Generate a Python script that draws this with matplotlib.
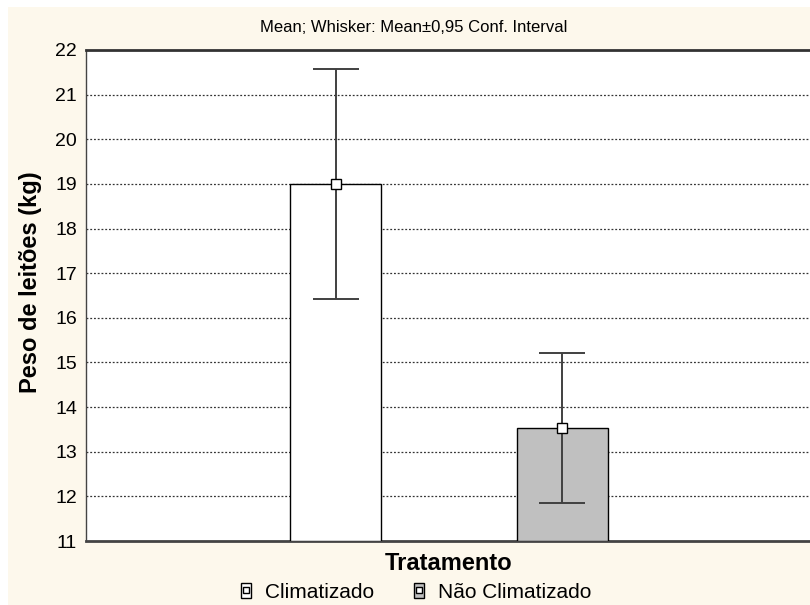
import matplotlib
matplotlib.use("Agg")
import matplotlib.pyplot as plt
from matplotlib.patches import Rectangle, Patch
from matplotlib.lines import Line2D
from matplotlib.legend_handler import HandlerTuple

plt.rcParams['font.family'] = ['Liberation Sans', 'DejaVu Sans']

categories = ["Climatizado", "Não Climatizado"]
means = [19.0, 13.53]
ci_low = [16.42, 11.85]
ci_high = [21.57, 15.22]
bar_colors = ["#ffffff", "#c0c0c0"]
yticks = list(range(11, 23))

W, H = 810, 605
fig = plt.figure(figsize=(W / 100, H / 100), dpi=100, facecolor="white")
fig.patches.append(Rectangle((8 / W, 0), 1, 1 - 7 / H, transform=fig.transFigure,
                             facecolor="#fdf8ec", edgecolor="none", zorder=-10))

ax = fig.add_axes([86 / W, 1 - 541 / H, (812 - 86) / W, (541 - 50) / H])
ax.set_facecolor("white")
x = [0, 1]
ax.bar(x, [m - 11 for m in means], bottom=11, width=0.4, color=bar_colors,
       edgecolor="black", linewidth=1.0, zorder=3)
yerr = [[m - l for m, l in zip(means, ci_low)], [h - m for m, h in zip(means, ci_high)]]
ax.errorbar(x, means, yerr=yerr, fmt="none", ecolor="#404040", elinewidth=1.4,
            capsize=16.5, capthick=1.4, zorder=4)
ax.plot(x, means, linestyle="none", marker="s", markersize=6.5, markerfacecolor="white",
        markeredgecolor="black", markeredgewidth=1.0, zorder=5)

ax.set_xlim(-1.1, 2.1)
ax.set_ylim(11, 22)
ax.set_yticks(yticks)
ax.set_yticklabels([str(t) for t in yticks], fontsize=14)
ax.set_xticks([])
ax.tick_params(axis="y", length=0, pad=6.5)
for t in [12, 13, 14, 15, 16, 17, 18, 19, 20, 21]:
    ax.axhline(t, color="#333333", linestyle=(0, (1.5, 1.5)), linewidth=0.9, zorder=1)
ax.spines["top"].set_linewidth(2.0)
ax.spines["top"].set_color("#333333")
ax.spines["bottom"].set_linewidth(2.0)
ax.spines["bottom"].set_color("#444444")
ax.spines["left"].set_linewidth(1.0)
ax.spines["left"].set_color("#444444")
ax.spines["right"].set_visible(False)

fig.text(414 / W, 1 - 28 / H, "Mean; Whisker: Mean±0,95 Conf. Interval", ha="center",
         va="center", fontsize=12)
fig.text(31 / W, 1 - 282 / H, "Peso de leitões (kg)", rotation=90, ha="center",
         va="center", fontsize=17, fontweight="bold")
fig.text(449 / W, 1 - 564 / H, "Tratamento", ha="center", va="center", fontsize=17,
         fontweight="bold")

handles = []
for c in bar_colors:
    p = Patch(facecolor=c, edgecolor="black", linewidth=1.0)
    m = Line2D([], [], linestyle="none", marker="s", markersize=4, markerfacecolor="white",
               markeredgecolor="black", markeredgewidth=1.0)
    handles.append((p, m))
leg = fig.legend(handles, categories, handler_map={tuple: HandlerTuple(ndivide=1, pad=0)},
                 loc="center", bbox_to_anchor=(416 / W, 1 - 592 / H), ncol=2, frameon=False,
                 fontsize=15, handlelength=0.48, handleheight=0.72, handletextpad=0.67,
                 columnspacing=1.9, borderaxespad=0, borderpad=0)

fig.savefig("out.png", dpi=100, facecolor=fig.get_facecolor())
